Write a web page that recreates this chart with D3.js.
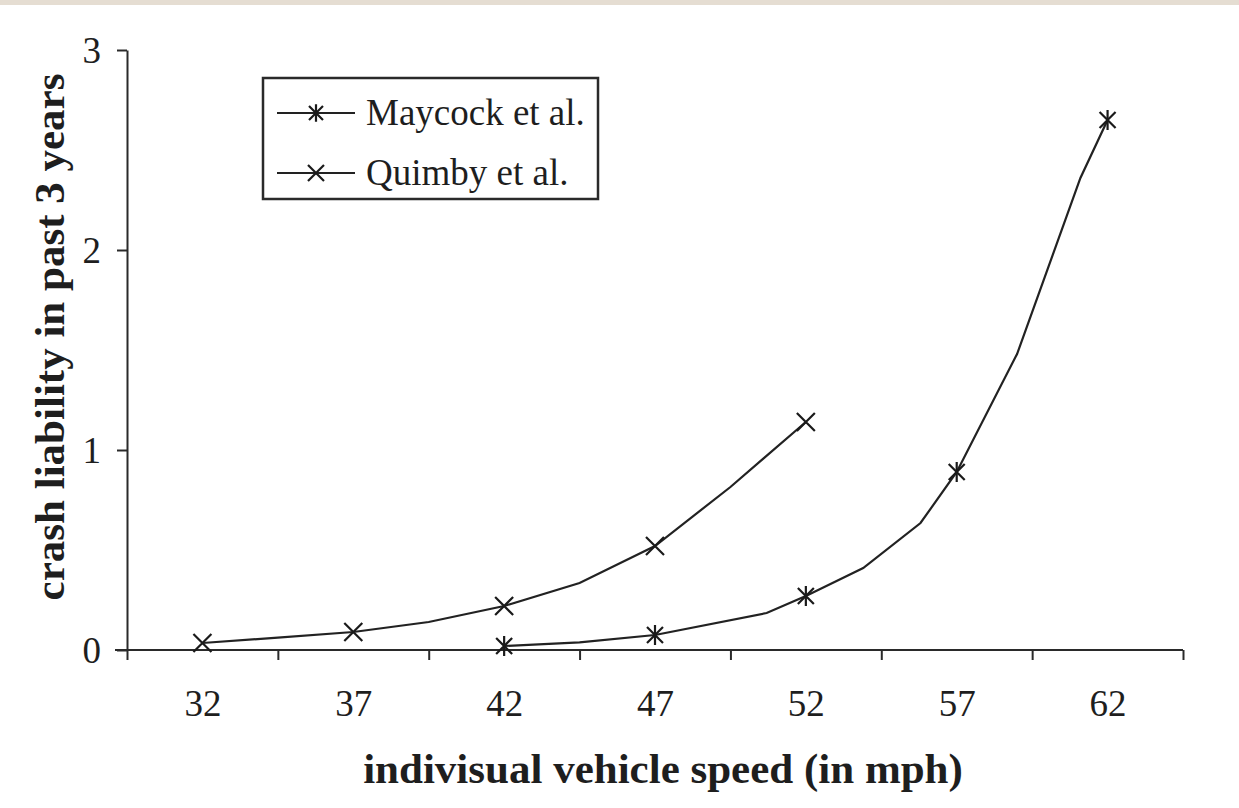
<!DOCTYPE html>
<meta charset="utf-8">
<head>
    <script src="https://d3js.org/d3.v7.min.js"></script>
    <style>
        body { margin: 0; background: #fff; }
        .strip { height: 5px; background: #e5ddd2; }
        text { font-family: "Liberation Serif", "Times New Roman", serif; fill: #1e1e1e; }
        .domain, .tick line { stroke: #2a2a2a; stroke-width: 2px; }
    </style>
</head>
<body>
    <div class="strip"></div>
    <div id="chart"></div>
    <script>

    // category labels on the x axis (mph) and boundaries between them
    var speedLabels = [32, 37, 42, 47, 52, 57, 62]
    var speedBounds = [29.5, 34.5, 39.5, 44.5, 49.5, 54.5, 59.5, 64.5]
    var yTicks = [0, 1, 2, 3]

    // Quimby et al. (x markers)
    var quimbySpeed = [32, 34.5, 37, 39.5, 42, 44.5, 47, 49.5, 52]
    var quimbyValue = [0.035, 0.062, 0.09, 0.14, 0.22, 0.335, 0.52, 0.815, 1.14]

    // Maycock et al. (asterisk markers)
    var maycockSpeed = [42, 44.5, 47, 50.7, 52, 53.9, 55.8, 57, 59, 61.1, 62]
    var maycockValue = [0.02, 0.038, 0.075, 0.185, 0.27, 0.41, 0.635, 0.89, 1.48, 2.36, 2.65]

    var seriesNames = ["Maycock et al.", "Quimby et al."]

    var width = 1239
        height = 803

    var svg = d3.select("#chart")
                .append("svg")
                .attr("width", width)
                .attr("height", height)

    // the strip above takes 5px, so shift everything up by 5
    var g = svg.append("g").attr("transform", "translate(0,-5)")

    var x = d3.scaleLinear().domain([29.5, 64.5]).range([127, 1183])
    var y = d3.scaleLinear().domain([0, 3]).range([650, 50])

    // y axis
    var yAxis = g.append("g")
        .attr("transform", "translate(127,0)")
        .call(d3.axisLeft(y).tickValues(yTicks).tickFormat(d3.format("d"))
              .tickSize(10).tickPadding(16).tickSizeOuter(0))
    yAxis.selectAll("text").style("font-size", "37px").attr("dy", "0.33em")

    // x axis: ticks on boundaries, labels in between
    var xAxis = g.append("g")
        .attr("transform", "translate(0,650)")
        .call(d3.axisBottom(x).tickValues(speedBounds).tickSize(10).tickFormat("").tickSizeOuter(0))
    xAxis.select(".domain").attr("d", "M115,0H1183")

    var xLabels = g.append("g")
        .attr("transform", "translate(0,650)")
        .call(d3.axisBottom(x).tickValues(speedLabels).tickSize(0).tickPadding(40))
    xLabels.select(".domain").remove()
    xLabels.selectAll("text").style("font-size", "37px")

    // axis titles
    g.append("text")
        .attr("x", 663).attr("y", 783)
        .attr("text-anchor", "middle")
        .style("font-size", "43px").style("font-weight", "bold")
        .text("indivisual vehicle speed (in mph)")

    g.append("text")
        .attr("transform", "translate(64,337) rotate(-90)")
        .attr("text-anchor", "middle")
        .style("font-size", "43px").style("font-weight", "bold")
        .text("crash liability in past 3 years")

    var line = d3.line()
        .x(function(d) { return x(d[0]) })
        .y(function(d) { return y(d[1]) })

    var quimby = quimbySpeed.map(function(s, i) { return [s, quimbyValue[i]] })
    var maycock = maycockSpeed.map(function(s, i) { return [s, maycockValue[i]] })

    g.append("path").datum(quimby)
        .attr("d", line).attr("fill", "none")
        .attr("stroke", "#222").attr("stroke-width", 2.2)
    g.append("path").datum(maycock)
        .attr("d", line).attr("fill", "none")
        .attr("stroke", "#222").attr("stroke-width", 2.2)

    // marker shapes
    function xMark(sel, r) {
        sel.append("path")
            .attr("d", "M" + (-r) + "," + (-r) + "L" + r + "," + r + "M" + (-r) + "," + r + "L" + r + "," + (-r))
            .attr("stroke", "#1a1a1a").attr("stroke-width", 2.2).attr("fill", "none")
    }
    function starMark(sel, r) {
        xMark(sel, r)
        sel.append("path")
            .attr("d", "M0," + (-r * 1.25) + "V" + (r * 1.25))
            .attr("stroke", "#1a1a1a").attr("stroke-width", 2.2)
    }

    // markers only on the labelled speeds
    g.selectAll("qm")
        .data(quimby.filter(function(d) { return speedLabels.indexOf(d[0]) >= 0 }))
        .enter().append("g")
        .attr("transform", function(d) { return "translate(" + x(d[0]) + "," + y(d[1]) + ")" })
        .each(function() { xMark(d3.select(this), 9) })

    g.selectAll("mm")
        .data(maycock.filter(function(d) { return speedLabels.indexOf(d[0]) >= 0 }))
        .enter().append("g")
        .attr("transform", function(d) { return "translate(" + x(d[0]) + "," + y(d[1]) + ")" })
        .each(function() { starMark(d3.select(this), 8) })

    // legend
    var legend = g.append("g")
    legend.append("rect")
        .attr("x", 263).attr("y", 78).attr("width", 335).attr("height", 121)
        .attr("fill", "#fff").attr("stroke", "#2a2a2a").attr("stroke-width", 2.5)

    seriesNames.forEach(function(name, i) {
        var ly = 113 + i * 60
        legend.append("line")
            .attr("x1", 277).attr("x2", 355).attr("y1", ly).attr("y2", ly)
            .attr("stroke", "#222").attr("stroke-width", 2.2)
        var m = legend.append("g").attr("transform", "translate(316," + ly + ")")
        if (i == 0) starMark(m, 7); else xMark(m, 8)
        legend.append("text")
            .attr("x", 366).attr("y", ly + 12)
            .style("font-size", "37px")
            .text(name)
    })
    </script>
</body>
